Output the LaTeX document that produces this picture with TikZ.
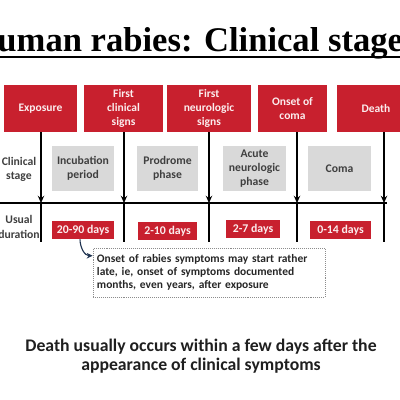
\documentclass[tikz,border=0pt]{standalone}
\usepackage{fontspec}
\setmainfont{Carlito}
\newfontfamily\titlefont{Liberation Serif}
\usetikzlibrary{arrows.meta,positioning}
\definecolor{stagered}{HTML}{C8202E}
\definecolor{stagegray}{HTML}{D9D9D9}
\definecolor{boxtext}{HTML}{3F3F3F}
\definecolor{notenavy}{HTML}{1F3350}

\begin{document}
\begin{tikzpicture}[x=0.025cm, y=-0.025cm,
  event/.style={rectangle, fill=stagered, text=white!92!stagered, align=center,
                font=\bfseries\fontsize{8.2}{10}\selectfont,
                minimum height=1.175cm, inner sep=1pt},
  stage/.style={rectangle, fill=stagegray, text=boxtext, align=center,
                font=\bfseries\fontsize{8.3}{10.2}\selectfont,
                minimum height=1.125cm, inner sep=1pt},
  dur/.style={rectangle, fill=stagered, text=white!92!stagered,
              font=\bfseries\fontsize{8.4}{10}\selectfont,
              minimum height=0.45cm, inner sep=1pt},
  side/.style={text=boxtext, align=center, font=\bfseries\fontsize{8.3}{10.2}\selectfont},
  note/.style={rectangle, draw=black!45, densely dotted, fill=white, align=left,
               text width=5.6cm, minimum height=1.225cm, inner sep=0.1cm,
               font=\bfseries\fontsize{8.15}{9.3}\selectfont, text=black!85},
  arr/.style={-{Stealth[length=1.8mm,width=1.6mm]}, line width=0.85pt},
  tick/.style={line width=0.85pt}
]
  \useasboundingbox (0,0) rectangle (400,400);
  \clip (0,0) rectangle (400,400);

  % title
  \node[anchor=base, font=\titlefont\bfseries\fontsize{24.6}{28}\selectfont] (title) at (193.5,52)
    {Human rabies: Clinical stages};
  \draw[line width=1.1pt] ([yshift=-0.125cm]title.base west) -- ([yshift=-0.125cm]title.base east);

  % events
  \node[event, minimum width=1.825cm] (e1) at (40.5,108.5) {Exposure};
  \node[event, minimum width=1.975cm] (e2) at (123.5,108.5) {First\\clinical\\signs};
  \node[event, minimum width=2.1cm]   (e3) at (209,108.5) {First\\neurologic\\signs};
  \node[event, minimum width=1.725cm] (e4) at (292.5,108.5) {Onset of\\coma};
  \node[event, minimum width=1.95cm]  (e5) at (376,108.5) {Death};

  % stages
  \node[side] (lclin) at (19,169.5) {Clinical\\stage};
  \node[stage, minimum width=1.55cm]  (s1) at (83,168.5) {Incubation\\period};
  \node[stage, minimum width=1.525cm] (s2) at (167.5,168.5) {Prodrome\\phase};
  \node[stage, minimum width=1.575cm] (s3) at (254.5,168.5) {Acute\\neurologic\\phase};
  \node[stage, minimum width=1.575cm] (s4) at (339.5,168.5) {Coma};

  % timeline
  \coordinate (tl0) at (0,203);
  \coordinate (tl1) at (387,203);
  \draw[tick] (tl0) -- (tl1);
  \foreach \e/\x in {e1/41, e2/124, e3/209, e4/297, e5/384} {
    \coordinate (t\e) at (\x,203);
    \draw[arr] (\e.south -| t\e) -- (t\e);
    \draw[tick] (t\e) -- ++(0,39);
  }

  % durations
  \node[side] (ldur) at (19,227) {Usual\\duration};
  \node[dur, minimum width=1.55cm]  (d1) at (83,230) {20-90 days};
  \node[dur, minimum width=1.475cm] (d2) at (167.5,231) {2-10 days};
  \node[dur, minimum width=1.35cm]  (d3) at (253,229) {2-7 days};
  \node[dur, minimum width=1.525cm] (d4) at (340.5,230) {0-14 days};

  \node[note] (note) at (209,272.5)
    {Onset of rabies symptoms may start rather\\late, ie, onset of symptoms documented\\months, even years, after exposure};
  \draw[-{Stealth[length=1.5mm,width=1.4mm]}, notenavy, line width=0.8pt]
    ([xshift=-0.075cm]d1.south) to[out=-90, in=180] ([yshift=-0.2cm]note.north west);

  % remark
  \node[align=center, text=black!88, font=\bfseries\fontsize{12.6}{13.8}\selectfont] (death) at (201,356)
    {Death usually occurs within a few days after the\\appearance of clinical symptoms};
\end{tikzpicture}
\end{document}
